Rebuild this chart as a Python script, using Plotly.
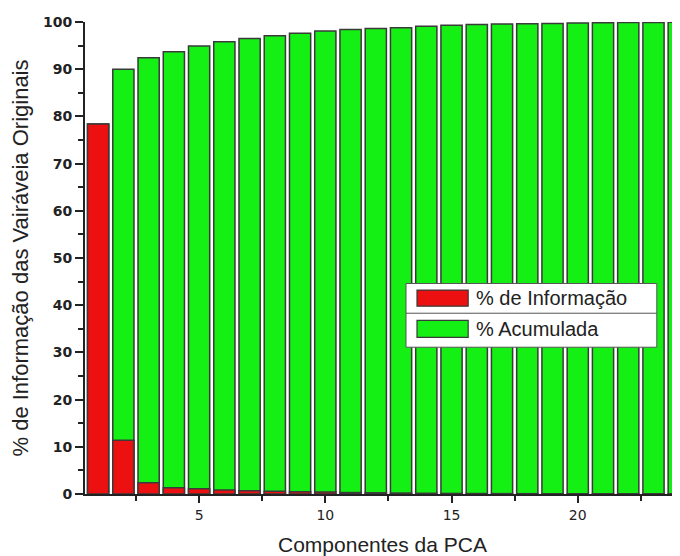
import plotly.graph_objects as go

componentes = list(range(1, 25))
info_pct = [78.4, 11.4, 2.4, 1.3, 1.1, 0.85, 0.7, 0.6, 0.5, 0.4, 0.3, 0.25,
            0.2, 0.15, 0.12, 0.1, 0.08, 0.07, 0.06, 0.05, 0.04, 0.03, 0.03, 0.02]
acum_pct = [78.4, 90.0, 92.4, 93.7, 94.9, 95.8, 96.5, 97.1, 97.6, 98.1, 98.4, 98.6,
            98.8, 99.1, 99.3, 99.45, 99.55, 99.65, 99.7, 99.8, 99.85, 99.9, 99.92, 99.95]
nome_info = "% de Informação"
nome_acum = "% Acumulada"

RED = "#ec1010"
GREEN = "#14f014"
EDGE = "#3a3a3a"
FONT = "Liberation Sans, Arial, sans-serif"
TICKFONT = "DejaVu Sans, sans-serif"

fig = go.Figure()
fig.add_trace(go.Bar(x=componentes, y=acum_pct, name=nome_acum, width=0.84,
                     marker=dict(color=GREEN, line=dict(color=EDGE, width=1.5))))
fig.add_trace(go.Bar(x=componentes, y=info_pct, name=nome_info, width=0.84,
                     marker=dict(color=RED, line=dict(color=EDGE, width=1.5))))

# custom legend (box, separator, swatches, labels)
shapes = [
    dict(type="rect", xref="paper", yref="paper", x0=0.5395, x1=0.961, y0=0.311, y1=0.446,
         fillcolor="white", line=dict(color="#555", width=1)),
    dict(type="line", xref="paper", yref="paper", x0=0.5395, x1=0.961, y0=0.383, y1=0.383,
         line=dict(color="#555", width=1)),
    dict(type="rect", xref="paper", yref="paper", x0=0.558, x1=0.644, y0=0.398, y1=0.432,
         fillcolor=RED, line=dict(color=EDGE, width=1.2)),
    dict(type="rect", xref="paper", yref="paper", x0=0.558, x1=0.644, y0=0.332, y1=0.368,
         fillcolor=GREEN, line=dict(color=EDGE, width=1.2)),
]
annotations = [
    dict(xref="paper", yref="paper", x=0.653, y=0.415, text=nome_info, showarrow=False,
         xanchor="left", yanchor="middle", font=dict(size=20, color="#222", family=FONT)),
    dict(xref="paper", yref="paper", x=0.653, y=0.350, text=nome_acum, showarrow=False,
         xanchor="left", yanchor="middle", font=dict(size=20, color="#222", family=FONT)),
]

fig.update_layout(
    width=672, height=548,
    margin=dict(l=77, r=0, t=14, b=62),
    barmode="overlay",
    showlegend=False,
    plot_bgcolor="white", paper_bgcolor="white",
    font=dict(family=FONT, color="#222"),
    shapes=shapes, annotations=annotations,
    xaxis=dict(range=[0.48, 24.05], tickmode="array", tickvals=[5, 10, 15, 20],
               ticks="outside", ticklen=7, tickwidth=2, tickcolor="#222",
               minor=dict(tickmode="array", tickvals=[2.5, 7.5, 12.5, 17.5, 22.5],
                          ticks="outside", ticklen=5, tickwidth=2, tickcolor="#222"),
               showline=True, linecolor="#222", linewidth=2, showgrid=False, zeroline=False,
               tickfont=dict(size=14, family=TICKFONT),
               title=dict(text="Componentes da PCA", font=dict(size=21, family=FONT), standoff=20)),
    yaxis=dict(range=[0, 100], tickmode="linear", tick0=0, dtick=10,
               ticks="outside", ticklen=8, tickwidth=2, tickcolor="#222",
               minor=dict(dtick=5, ticks="outside", ticklen=5, tickwidth=2, tickcolor="#222"),
               showline=True, linecolor="#222", linewidth=2, showgrid=False, zeroline=False,
               tickfont=dict(size=14, family=TICKFONT, weight="bold"),
               title=dict(text="% de Informação das Vairáveia Originais",
                          font=dict(size=22, family=FONT), standoff=8)),
)

fig.write_html("out.html")
